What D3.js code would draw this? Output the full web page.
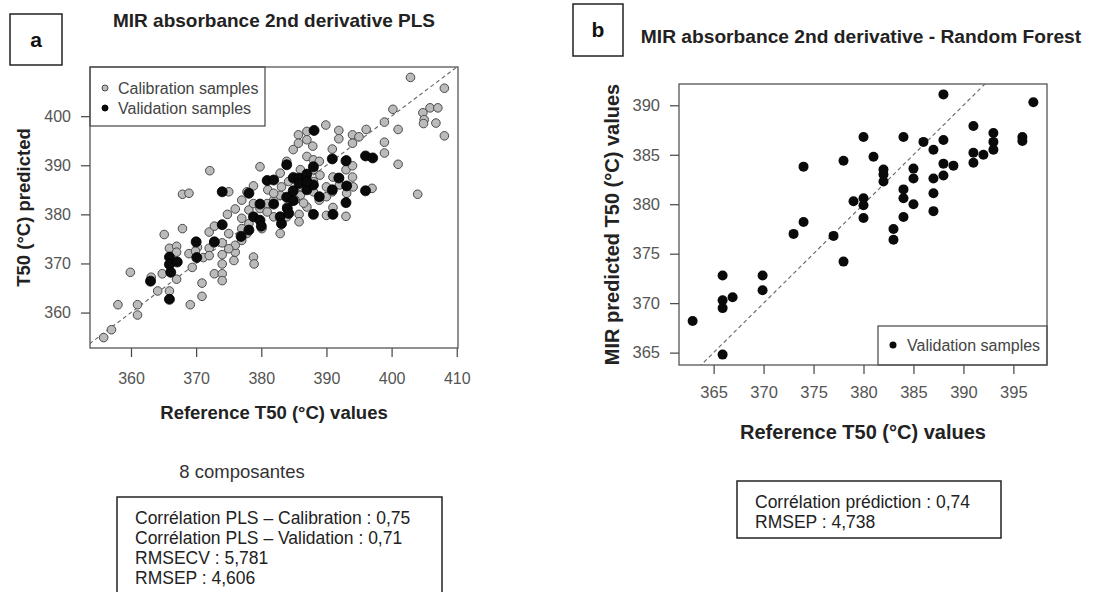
<!DOCTYPE html>
<html>
<head>
<meta charset="utf-8">
<script src="https://cdn.jsdelivr.net/npm/d3@7"></script>
<style>
  body { margin: 0; background: #fff; }
  svg { display: block; font-family: "Liberation Sans", Arial, sans-serif; }
</style>
</head>
<body>
<svg id="chart" width="1094" height="592"></svg>
<script>
// panel a: PLS, calibration samples (reference, predicted)
const calX = [355.8, 357.0, 358.0, 359.9, 361.0, 361.0, 363.1, 364.1, 364.8, 365.1,
  365.9, 365.9, 367.0, 367.0, 367.0, 367.9, 367.9, 368.9, 368.9, 369.1,
  370.2, 371.1, 370.9, 370.9, 372.0, 372.1, 372.0, 372.8, 372.8, 374.0,
  374.0, 374.0, 374.0, 374.0, 374.8, 375.0, 375.0, 376.0, 376.0, 376.0,
  375.0, 377.0, 377.0, 377.0, 377.0, 378.1, 378.1, 378.8, 378.8, 378.9,
  379.8, 379.8, 381.0, 381.9, 381.9, 382.9, 382.9, 382.9, 383.1, 383.9,
  383.9, 384.9, 384.9, 384.9, 385.7, 385.7, 385.8, 385.8, 386.0, 387.0,
  387.0, 387.0, 387.0, 386.5, 387.9, 388.0, 388.0, 388.9, 389.0, 388.9,
  389.9, 390.0, 390.0, 390.9, 391.0, 391.0, 391.9, 391.9, 392.0, 393.0,
  393.0, 393.1, 394.0, 394.0, 394.0, 394.0, 394.1, 395.0, 396.1, 397.0,
  398.9, 398.9, 398.9, 400.2, 401.0, 401.0, 402.9, 404.0, 404.8, 405.0,
  404.9, 405.9, 407.1, 406.8, 408.1, 408.1, 380.9, 381.9, 384.2, 385.2,
  386.2, 388.0, 390.0, 390.9, 392.0, 393.1, 388.0, 383.9, 380.1, 377.8,
  375.8, 372.7, 372.0, 369.9, 369.4, 377.8, 378.8, 380.9, 386.0, 387.0];
const calY = [354.9, 356.5, 361.6, 368.2, 361.6, 359.5, 367.2, 364.4, 367.9, 375.9,
  373.1, 364.4, 373.5, 372.3, 366.8, 377.1, 384.1, 384.3, 372.0, 361.6,
  373.3, 371.2, 366.0, 363.3, 376.4, 388.9, 373.1, 377.6, 367.9, 367.9,
  366.5, 369.9, 371.8, 374.2, 380.0, 376.1, 384.6, 381.1, 372.3, 373.7,
  373.0, 382.9, 379.2, 377.1, 374.7, 380.9, 378.1, 385.8, 371.3, 369.9,
  389.7, 381.2, 385.0, 382.9, 379.5, 388.4, 383.9, 376.1, 385.6, 390.8,
  381.5, 393.2, 387.7, 384.6, 396.2, 394.5, 380.0, 378.5, 383.9, 396.9,
  395.2, 391.8, 381.5, 382.3, 393.9, 391.1, 389.1, 390.8, 388.0, 382.9,
  398.2, 383.6, 379.8, 393.3, 387.6, 381.4, 397.1, 395.4, 387.4, 389.1,
  379.6, 391.1, 396.2, 394.5, 389.9, 387.6, 385.6, 395.8, 397.3, 385.3,
  398.8, 394.7, 392.5, 401.4, 397.3, 390.2, 407.9, 384.1, 400.7, 399.3,
  398.5, 401.7, 401.7, 398.6, 405.7, 396.0, 380.5, 384.3, 386.7, 382.9,
  385.6, 386.7, 385.6, 384.6, 386.0, 384.3, 384.6, 379.5, 377.1, 376.1,
  370.6, 374.2, 371.6, 372.5, 369.2, 384.6, 382.2, 382.2, 389.1, 387.0];

// panel a: PLS, validation samples
const valX = [363.0, 365.9, 365.9, 365.9, 366.1, 367.1, 370.0, 370.1, 372.8, 374.0,
  374.0, 376.9, 378.1, 378.1, 378.8, 379.8, 379.8, 380.0, 380.9, 381.9,
  381.9, 382.9, 383.1, 383.9, 383.9, 384.0, 384.2, 384.9, 384.9, 385.8,
  385.8, 387.0, 387.0, 388.0, 388.0, 388.0, 388.1, 388.9, 390.9, 390.9,
  391.0, 391.9, 393.0, 393.1, 393.0, 396.0, 396.0, 397.1, 387.0, 384.9];
const valY = [366.4, 362.7, 371.3, 369.8, 368.2, 370.3, 374.4, 371.2, 374.4, 384.6,
  377.9, 375.5, 376.8, 384.3, 379.5, 382.1, 378.8, 377.6, 386.9, 387.0,
  382.1, 379.5, 378.1, 390.1, 383.5, 381.2, 380.2, 387.4, 382.8, 387.4,
  386.3, 388.2, 385.0, 389.7, 386.0, 380.0, 397.1, 383.6, 391.3, 385.0,
  380.0, 387.4, 390.9, 385.8, 382.4, 391.9, 384.8, 391.5, 386.7, 384.8];

// panel b: random forest, validation samples
const rfX = [362.9, 365.9, 365.9, 365.9, 365.9, 366.9, 369.9, 369.9, 373.0, 374.0,
  374.0, 377.0, 378.0, 378.0, 379.0, 380.0, 380.0, 380.0, 380.0, 381.0,
  382.0, 382.0, 382.0, 383.0, 383.0, 384.0, 384.0, 384.0, 384.0, 385.0,
  385.0, 385.0, 386.0, 387.0, 387.0, 387.0, 387.0, 388.0, 388.0, 388.0,
  388.0, 389.0, 391.0, 391.0, 391.0, 392.0, 393.0, 393.0, 393.0, 395.9,
  395.9, 397.0];
const rfY = [368.2, 372.8, 370.3, 369.5, 364.8, 370.6, 372.8, 371.3, 377.0, 383.8,
  378.2, 376.8, 384.4, 374.2, 380.3, 386.8, 380.6, 379.9, 378.6, 384.8,
  383.5, 383.0, 382.3, 377.5, 376.4, 386.8, 381.5, 380.6, 378.7, 383.6,
  382.6, 380.0, 386.3, 385.5, 382.6, 381.1, 379.3, 391.1, 386.5, 384.1,
  382.9, 383.9, 387.9, 385.2, 384.2, 385.0, 387.2, 386.3, 385.5, 386.8,
  386.4, 390.3];

const plsTicksX = [360, 370, 380, 390, 400, 410];
const plsTicksY = [360, 370, 380, 390, 400];
const rfTicksX = [365, 370, 375, 380, 385, 390, 395];
const rfTicksY = [365, 370, 375, 380, 385, 390];

const plsStats = ['Corrélation PLS – Calibration : 0,75', 'Corrélation PLS – Validation : 0,71',
  'RMSECV : 5,781', 'RMSEP : 4,606'];
const rfStats = ['Corrélation prédiction : 0,74', 'RMSEP : 4,738'];

const svg = d3.select('#chart');

// R style range: data extent widened by 4%
function paddedExtent(values) {
  const [lo, hi] = d3.extent(values);
  const p = (hi - lo) * 0.04;
  return [lo - p, hi + p];
}

// draw one scatter panel with ticks, labels, y = x line
function drawPanel(opts) {
  const { id, box, xDom, yDom, ticksX, ticksY, xLabel, yLabel } = opts;
  const x = d3.scaleLinear().domain(xDom).range([box.x0, box.x1]);
  const y = d3.scaleLinear().domain(yDom).range([box.y1, box.y0]);
  const g = svg.append('g');

  g.append('clipPath').attr('id', 'clip-' + id)
    .append('rect')
    .attr('x', box.x0).attr('y', box.y0)
    .attr('width', box.x1 - box.x0).attr('height', box.y1 - box.y0);

  // x axis
  const ax = g.append('g')
    .attr('transform', `translate(0,${box.y1})`)
    .call(d3.axisBottom(x).tickValues(ticksX).tickSize(9).tickPadding(opts.xTickPad).tickFormat(d3.format('d')));
  // y axis
  const ay = g.append('g')
    .attr('transform', `translate(${box.x0},0)`)
    .call(d3.axisLeft(y).tickValues(ticksY).tickSize(9).tickPadding(10).tickFormat(d3.format('d')));
  [ax, ay].forEach((a) => {
    a.select('.domain').remove();
    a.selectAll('line').attr('stroke', '#444').attr('stroke-width', 1.2);
    a.selectAll('text').attr('fill', '#555').style('font-size', opts.tickFont + 'px')
      .style('font-family', '"Liberation Sans", Arial, sans-serif');
  });

  // 1:1 line
  const lo = Math.min(xDom[0], yDom[0]), hi = Math.max(xDom[1], yDom[1]);
  g.append('line')
    .attr('clip-path', `url(#clip-${id})`)
    .attr('x1', x(lo)).attr('y1', y(lo))
    .attr('x2', x(hi)).attr('y2', y(hi))
    .attr('stroke', '#666').attr('stroke-width', 1.1)
    .attr('stroke-dasharray', '4,3');

  // axis titles
  g.append('text')
    .attr('x', (box.x0 + box.x1) / 2).attr('y', box.y1 + opts.xTitleOff)
    .attr('text-anchor', 'middle')
    .style('font-size', opts.titleFont + 'px').style('font-weight', 'bold')
    .attr('fill', '#222')
    .text(xLabel);
  g.append('text')
    .attr('transform', `translate(${box.x0 - 60},${(box.y0 + box.y1) / 2}) rotate(-90)`)
    .attr('text-anchor', 'middle')
    .style('font-size', opts.titleFont + 'px').style('font-weight', 'bold')
    .attr('fill', '#222')
    .text(yLabel);

  return { g, x, y };
}

// panel label box like "a", "b"
function panelTag(x0, y0, w, h, letter) {
  svg.append('rect').attr('x', x0).attr('y', y0).attr('width', w).attr('height', h)
    .attr('fill', '#fff').attr('stroke', '#222').attr('stroke-width', 1.5);
  svg.append('text').attr('x', x0 + w / 2).attr('y', y0 + h / 2 + 7)
    .attr('text-anchor', 'middle').style('font-size', '21px').style('font-weight', 'bold')
    .attr('fill', '#111').text(letter);
}

function textBox(x0, y0, w, h, lines, firstY, step) {
  svg.append('rect').attr('x', x0).attr('y', y0).attr('width', w).attr('height', h)
    .attr('fill', '#fff').attr('stroke', '#222').attr('stroke-width', 1.5);
  svg.append('g').selectAll('text').data(lines).join('text')
    .attr('x', x0 + 18).attr('y', (d, i) => firstY + i * step)
    .style('font-size', '17.5px').attr('fill', '#222')
    .text((d) => d);
}

/* ---- panel a ---- */
const boxA = { x0: 90, x1: 458, y0: 67, y1: 348 };
const pa = drawPanel({
  id: 'a', box: boxA,
  xDom: paddedExtent(calX.concat(valX)), yDom: paddedExtent(calY.concat(valY)),
  ticksX: plsTicksX, ticksY: plsTicksY,
  xLabel: 'Reference T50 (°C) values', yLabel: 'T50 (°C) predicted',
  tickFont: 16, titleFont: 18.5, xTickPad: 16, xTitleOff: 71,
});

const calPts = d3.zip(calX, calY), valPts = d3.zip(valX, valY);
pa.g.append('g').selectAll('circle').data(calPts).join('circle')
  .attr('cx', (d) => pa.x(d[0])).attr('cy', (d) => pa.y(d[1])).attr('r', 4.3)
  .attr('fill', '#bbbbbb').attr('stroke', '#4a4a4a').attr('stroke-width', 1);
pa.g.append('g').selectAll('circle').data(valPts).join('circle')
  .attr('cx', (d) => pa.x(d[0])).attr('cy', (d) => pa.y(d[1])).attr('r', 5)
  .attr('fill', '#0a0a0a').attr('stroke', '#000').attr('stroke-width', 0.8);

// legend a
const legA = pa.g.append('g');
legA.append('rect').attr('x', boxA.x0).attr('y', boxA.y0).attr('width', 175).attr('height', 59)
  .attr('fill', '#fff').attr('stroke', '#444').attr('stroke-width', 1.2);
[['Calibration samples', '#bbbbbb', '#4a4a4a'], ['Validation samples', '#0a0a0a', '#000']].forEach((it, i) => {
  const cy = 88 + i * 20;
  legA.append('circle').attr('cx', 105).attr('cy', cy).attr('r', 3)
    .attr('fill', it[1]).attr('stroke', it[2]).attr('stroke-width', 1);
  legA.append('text').attr('x', 118).attr('y', cy + 5.5)
    .style('font-size', '16px').attr('fill', '#444').text(it[0]);
});

// frame on top
pa.g.append('rect').attr('x', boxA.x0).attr('y', boxA.y0)
  .attr('width', boxA.x1 - boxA.x0).attr('height', boxA.y1 - boxA.y0)
  .attr('fill', 'none').attr('stroke', '#555').attr('stroke-width', 1.3);

svg.append('text').attr('x', 274).attr('y', 27).attr('text-anchor', 'middle')
  .style('font-size', '19px').style('font-weight', 'bold').attr('fill', '#222')
  .text('MIR absorbance 2nd derivative PLS');
panelTag(10, 14, 52, 51, 'a');

svg.append('text').attr('x', 242).attr('y', 478).attr('text-anchor', 'middle')
  .style('font-size', '18.5px').attr('fill', '#333').text('8 composantes');
textBox(117, 497, 325, 100, plsStats, 524, 20);

/* ---- panel b ---- */
const boxB = { x0: 679, x1: 1047, y0: 84, y1: 365 };
const pb = drawPanel({
  id: 'b', box: boxB,
  xDom: paddedExtent(rfX), yDom: paddedExtent(rfY),
  ticksX: rfTicksX, ticksY: rfTicksY,
  xLabel: 'Reference T50 (°C) values', yLabel: 'MIR predicted T50 (°C) values',
  tickFont: 16.5, titleFont: 20, xTickPad: 12, xTitleOff: 74,
});

pb.g.append('g').selectAll('circle').data(d3.zip(rfX, rfY)).join('circle')
  .attr('cx', (d) => pb.x(d[0])).attr('cy', (d) => pb.y(d[1])).attr('r', 5)
  .attr('fill', '#0a0a0a');

const legB = pb.g.append('g');
legB.append('rect').attr('x', 878).attr('y', 326).attr('width', boxB.x1 - 878).attr('height', boxB.y1 - 326)
  .attr('fill', '#fff').attr('stroke', '#444').attr('stroke-width', 1.2);
legB.append('circle').attr('cx', 893).attr('cy', 345).attr('r', 3.5).attr('fill', '#0a0a0a');
legB.append('text').attr('x', 907).attr('y', 350.5)
  .style('font-size', '16px').attr('fill', '#444').text('Validation samples');

pb.g.append('rect').attr('x', boxB.x0).attr('y', boxB.y0)
  .attr('width', boxB.x1 - boxB.x0).attr('height', boxB.y1 - boxB.y0)
  .attr('fill', 'none').attr('stroke', '#555').attr('stroke-width', 1.3);

svg.append('text').attr('x', 861).attr('y', 43).attr('text-anchor', 'middle')
  .style('font-size', '19.2px').style('font-weight', 'bold').attr('fill', '#222')
  .text('MIR absorbance 2nd derivative - Random Forest');
panelTag(573, 4, 50, 52, 'b');

textBox(737, 481, 264, 57, rfStats, 508, 20);
</script>
</body>
</html>
